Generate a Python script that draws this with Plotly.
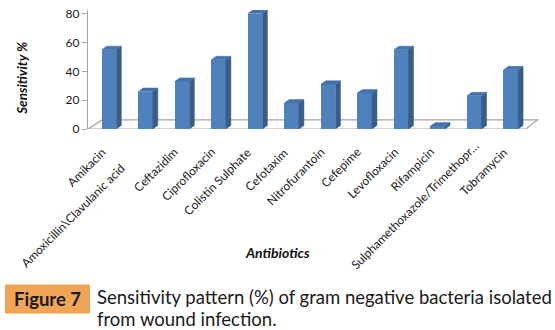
import plotly.graph_objects as go

categories = ["Amikacin", "Amoxicillin\\Clavulanic acid", "Ceftazidim", "Ciprofloxacin",
              "Colistin Sulphate", "Cefotaxim", "Nitrofurantoin", "Cefepime",
              "Levofloxacin", "Rifampicin", "Sulphamethoxazole/Trimethopr…", "Tobramycin"]
sensitivity = [55, 26, 33, 48, 80, 18, 31, 25, 55, 2, 23, 41]
y_ticks = [0, 20, 40, 60, 80]

W, H = 555, 330
L, R, T, B = 88, 540.3, 10.4, 129
xr = [-0.575, 11.8]
yr = [0, 82.5]
pxx = (R - L) / (xr[1] - xr[0])
pxy = (B - T) / (yr[1] - yr[0])

bw = 0.4
dx = 5 / pxx
dy = 3.5 / pxy

FRONT = "#4F81BD"
SIDE = "#385D8A"
TOP = "#4572A8"

xs = list(range(len(categories)))

side_x, side_y, top_x, top_y = [], [], [], []
for i, v in zip(xs, sensitivity):
    r = i + bw / 2
    l = i - bw / 2
    side_x += [r, r + dx, r + dx, r, r, None]
    side_y += [0, dy, v + dy, v, 0, None]
    top_x += [l, l + dx, r + dx, r, l, None]
    top_y += [v, v + dy, v + dy, v, v, None]

fig = go.Figure()
fig.add_trace(go.Bar(x=xs, y=sensitivity, width=bw, marker=dict(color=FRONT, line=dict(width=0)),
                     showlegend=False))
fig.add_trace(go.Scatter(x=side_x, y=side_y, fill="toself", fillcolor=SIDE,
                         mode="lines", line=dict(color=SIDE, width=0.5),
                         hoverinfo="skip", showlegend=False))
fig.add_trace(go.Scatter(x=top_x, y=top_y, fill="toself", fillcolor=TOP,
                         mode="lines", line=dict(color=TOP, width=0.5),
                         hoverinfo="skip", showlegend=False))


def px_x(p):
    return (p - L) / (R - L)


def px_y(p):
    return (B - p) / (B - T)


def dat_x(p):
    return (p - L) / pxx + xr[0]


# floor (parallelogram), drawn below the bars
fl_back_y = (B - 120) / pxy
fig.add_shape(type="path", xref="x", yref="y", layer="below",
              path=(f"M {xr[0]},0 L {dat_x(526)},0 L {dat_x(538)},{fl_back_y} "
                    f"L {dat_x(102)},{fl_back_y} Z"),
              line=dict(color="#A6A6A6", width=1.2))

fig.update_layout(
    width=W, height=H,
    margin=dict(l=L, r=W - R, t=T, b=H - B, autoexpand=False),
    paper_bgcolor="white", plot_bgcolor="white",
    font=dict(family="Lato, 'Open Sans', sans-serif", color="#1a1a1a"),
    xaxis=dict(range=xr, showticklabels=False, showgrid=False, zeroline=False,
               showline=False, ticks="", automargin=False),
    yaxis=dict(range=yr, tickmode="array", tickvals=y_ticks,
               tickfont=dict(size=12, color="#1a1a1a"),
               showgrid=False, zeroline=False, showline=True, linecolor="#A6A6A6", linewidth=1.2,
               ticks="outside", ticklen=5, tickcolor="#A6A6A6", automargin=False),
    bargap=0,
)

# category labels, rotated, right end placed just under each category
label_shift = {1: (-17, 16), 10: (8, -6)}
annotations = []
for i, name in enumerate(categories):
    sx, sy = label_shift.get(i, (0, 0))
    annotations.append(dict(
        text=name, x=i, y=px_y(142 + sy), xref="x", yref="paper",
        xanchor="right", yanchor="top", xshift=sx + 2, textangle=-45,
        showarrow=False, font=dict(size=12, color="#1a1a1a")))

caption_lines = ["Sensitivity pattern (%) of gram negative bacteria isolated",
                 "from wound infection."]

annotations += [
    dict(text="<b><i>Sensitivity %</i></b>", x=px_x(22), y=px_y(78), xref="paper", yref="paper",
         xanchor="center", yanchor="middle",
         textangle=-90, showarrow=False, font=dict(size=13.5, color="#111111")),
    dict(text="<b><i>Antibiotics</i></b>", x=px_x(278), y=px_y(252), xref="paper", yref="paper",
         xanchor="center", yanchor="middle",
         showarrow=False, font=dict(size=14, color="#111111")),
    dict(text="<b>Figure 7</b>", x=px_x(47.5), y=px_y(298.5), xref="paper", yref="paper",
         xanchor="center", yanchor="middle",
         showarrow=False, font=dict(size=18.5, color="#1a1a1a")),
]
for k, line in enumerate(caption_lines):
    annotations.append(dict(
        text=line, x=px_x(95), y=px_y(296 + 22 * k), xref="paper", yref="paper",
        xanchor="left", yanchor="middle", align="left", showarrow=False,
        font=dict(size=18.5, color="#1a1a1a")))

fig.update_layout(annotations=annotations)
fig.add_shape(type="rect", xref="paper", yref="paper", layer="below",
              x0=px_x(5), x1=px_x(90), y0=px_y(313), y1=px_y(284),
              fillcolor="#F0A455", line=dict(width=0))

fig.write_html("out.html")
